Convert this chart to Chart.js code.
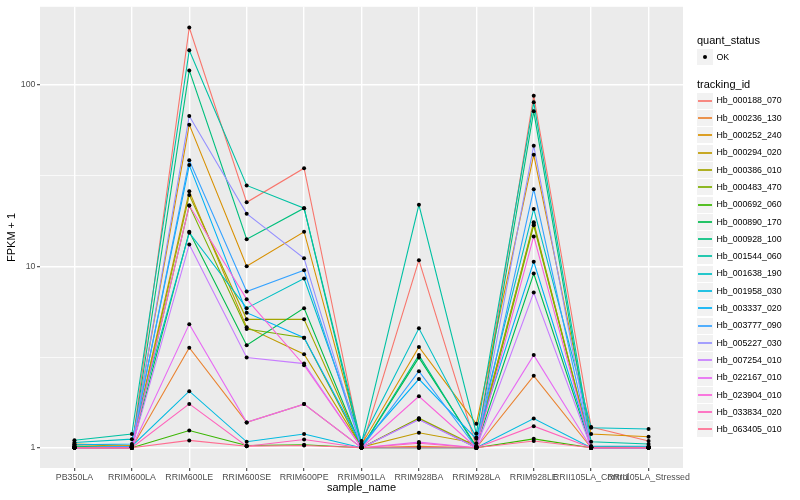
<!DOCTYPE html>
<html><head><meta charset="utf-8">
<script src="https://cdn.jsdelivr.net/npm/chart.js@4.4.1/dist/chart.umd.min.js"></script>
<style>
body{margin:0;background:#fff;font-family:"Liberation Sans",Arial,sans-serif;}
#wrap{position:relative;width:800px;height:500px;overflow:hidden;}
#c{position:absolute;left:0;top:0;}
.t{position:absolute;white-space:nowrap;color:#000;}
.key{position:absolute;background:#F2F2F2;}
</style></head><body>
<div id="wrap"><canvas id="c" width="800" height="500"></canvas><div id="legend"></div></div>
<script>
const categories = ["PB350LA","RRIM600LA","RRIM600LE","RRIM600SE","RRIM600PE","RRIM901LA","RRIM928BA","RRIM928LA","RRIM928LE","RRII105LA_Control","RRII105LA_Stressed"];
const trackingIds = ["Hb_000188_070","Hb_000236_130","Hb_000252_240","Hb_000294_020","Hb_000386_010","Hb_000483_470","Hb_000692_060","Hb_000890_170","Hb_000928_100","Hb_001544_060","Hb_001638_190","Hb_001958_030","Hb_003337_020","Hb_003777_090","Hb_005227_030","Hb_007254_010","Hb_022167_010","Hb_023904_010","Hb_033834_020","Hb_063405_010"];
const seriesColors = ["#F8766D","#EA8331","#D89000","#C09B00","#A3A500","#7CAE00","#39B600","#00BB4E","#00BF7D","#00C1A3","#00BFC4","#00BAE0","#00B0F6","#35A2FF","#9590FF","#C77CFF","#E76BF3","#FA62DB","#FF62BC","#FF6C91"];
const yTickValues = [1, 10, 100];
const yMinorValues = [3.1623, 31.623];

const hb000188_070 = [1.0, 1.0, 206.7, 22.5, 34.7, 1.0, 10.8, 1.02, 87.0, 1.30, 1.09];
const hb000236_130 = [1.0, 1.0, 3.56, 1.38, 1.74, 1.0, 1.02, 1.0, 2.49, 1.0, 1.0];
const hb000252_240 = [1.05, 1.03, 60.3, 10.0, 15.5, 1.04, 3.59, 1.355, 41.1, 1.19, 1.15];
const hb000294_020 = [1.04, 1.02, 25.9, 4.62, 3.28, 1.01, 1.21, 1.06, 17.1, 1.02, 1.01];
const hb000386_010 = [1.02, 1.0, 24.7, 5.10, 5.11, 1.0, 1.456, 1.02, 17.5, 1.0, 1.0];
const hb000483_470 = [1.0, 1.0, 21.6, 4.51, 4.04, 1.0, 1.45, 1.0, 16.8, 1.0, 1.0];
const hb000692_060 = [1.0, 1.0, 1.246, 1.03, 1.04, 1.0, 1.0, 1.0, 1.12, 1.0, 1.0];
const hb000890_170 = [1.0, 1.0, 15.5, 3.67, 5.88, 1.0, 3.14, 1.02, 9.12, 1.0, 1.0];
const hb000928_100 = [1.02, 1.0, 120.0, 14.1, 20.9, 1.0, 3.24, 1.0, 71.4, 1.0, 1.0];
const hb001544_060 = [1.10, 1.19, 155.0, 27.9, 20.9, 1.06, 21.8, 1.20, 80.0, 1.08, 1.05];
const hb001638_190 = [1.07, 1.116, 15.3, 5.88, 8.56, 1.09, 4.55, 1.14, 20.7, 1.29, 1.27];
const hb001958_030 = [1.0, 1.02, 2.05, 1.079, 1.19, 1.0, 1.0, 1.0, 1.45, 1.0, 1.0];
const hb003337_020 = [1.04, 1.05, 36.1, 5.55, 4.04, 1.04, 2.39, 1.12, 10.6, 1.02, 1.02];
const hb003777_090 = [1.0, 1.02, 38.4, 7.26, 9.51, 1.0, 2.64, 1.0, 26.6, 1.0, 1.0];
const hb005227_030 = [1.0, 1.0, 67.3, 19.5, 11.07, 1.0, 1.43, 1.0, 46.2, 1.0, 1.0];
const hb007254_010 = [1.0, 1.0, 13.2, 3.14, 2.91, 1.0, 1.43, 1.0, 7.17, 1.0, 1.0];
const hb022167_010 = [1.0, 1.0, 4.80, 1.38, 1.74, 1.0, 1.075, 1.0, 3.24, 1.0, 1.0];
const hb023904_010 = [1.0, 1.0, 21.6, 6.59, 2.85, 1.0, 1.92, 1.0, 14.6, 1.0, 1.0];
const hb033834_020 = [1.0, 1.0, 1.745, 1.02, 1.11, 1.0, 1.06, 1.0, 1.316, 1.0, 1.0];
const hb063405_010 = [1.0, 1.0, 1.098, 1.02, 1.03, 1.0, 1.0, 1.0, 1.09, 1.0, 1.0];

const seriesValues = [hb000188_070,hb000236_130,hb000252_240,hb000294_020,hb000386_010,hb000483_470,hb000692_060,hb000890_170,hb000928_100,hb001544_060,hb001638_190,hb001958_030,hb003337_020,hb003777_090,hb005227_030,hb007254_010,hb022167_010,hb023904_010,hb033834_020,hb063405_010];

const FONT = '"Liberation Sans", Arial, Helvetica, sans-serif';
Chart.defaults.font.family = FONT;

const bgPlugin = {
  id: 'panelBg',
  beforeDraw(chart) {
    const {ctx, chartArea: a} = chart;
    ctx.save();
    ctx.fillStyle = '#EBEBEB';
    ctx.fillRect(a.left, a.top, a.right - a.left, a.bottom - a.top);
    ctx.restore();
  }
};

const isMajor = v => yTickValues.includes(v);

const lineSets = seriesValues.map((vals, i) => ({
  label: trackingIds[i],
  data: vals.map((v, j) => ({x: j, y: v})),
  showLine: true,
  borderColor: seriesColors[i],
  backgroundColor: seriesColors[i],
  borderWidth: 1.1,
  pointRadius: 0,
  pointHoverRadius: 0,
  fill: false,
  tension: 0,
  order: 100 - i
}));
const pointSet = {
  label: 'OK',
  data: seriesValues.flatMap(vals => vals.map((v, j) => ({x: j, y: v}))),
  showLine: false,
  backgroundColor: '#000',
  borderColor: '#000',
  borderWidth: 0,
  pointRadius: 2,
  order: 0
};

new Chart(document.getElementById('c'), {
  type: 'scatter',
  data: { datasets: [...lineSets, pointSet] },
  plugins: [bgPlugin],
  options: {
    responsive: false,
    animation: false,
    devicePixelRatio: 1,
    layout: { padding: { left: 0, top: 5, right: 117, bottom: 0 } },
    plugins: { legend: { display: false }, tooltip: { enabled: false } },
    scales: {
      x: {
        type: 'linear',
        bounds: 'data',
        min: -0.6,
        max: categories.length - 1 + 0.6,
        afterBuildTicks: s => { s.ticks = categories.map((c, i) => ({value: i})); },
        afterFit: s => { s.height = 32; },
        ticks: {
          autoSkip: false, maxRotation: 0, minRotation: 0,
          callback: v => categories[v],
          font: { size: 8.8, family: FONT },
          color: '#4D4D4D',
          padding: 1
        },
        grid: { color: '#FFFFFF', lineWidth: 1.42, tickColor: '#333333', tickLength: 3, tickWidth: 1 },
        border: { display: false },
        title: { display: true, text: 'sample_name', color: '#000', font: { size: 11, family: FONT }, padding: { top: 0, bottom: 5 } }
      },
      y: {
        type: 'logarithmic',
        min: 0.7738,
        max: 268.9,
        afterBuildTicks: s => { s.ticks = [...yTickValues, ...yMinorValues].sort((a,b)=>a-b).map(v => ({value: v})); },
        afterFit: s => { s.width = 40; },
        ticks: {
          autoSkip: false,
          callback: v => isMajor(v) ? String(v) : '',
          font: { size: 8.8, family: FONT },
          color: '#4D4D4D',
          padding: 1.5
        },
        grid: {
          color: '#FFFFFF',
          lineWidth: c => (c.tick && isMajor(c.tick.value)) ? 1.42 : 0.71,
          tickColor: c => (c.tick && isMajor(c.tick.value)) ? '#333333' : 'rgba(0,0,0,0)',
          tickLength: 3,
          tickWidth: 1
        },
        border: { display: false },
        title: { display: true, text: 'FPKM + 1', color: '#000', font: { size: 11, family: FONT }, padding: { top: 5, bottom: 0 } }
      }
    }
  }
});

// Legend (HTML, real text)
const lg = document.getElementById('legend');
function addText(txt, left, cy, size) {
  const d = document.createElement('div');
  d.className = 't';
  d.textContent = txt;
  d.style.left = left + 'px';
  d.style.fontSize = size + 'px';
  d.style.lineHeight = Math.round(size * 1.2) + 'px';
  d.style.top = (cy - size * 0.6) + 'px';
  lg.appendChild(d);
}
function addKey(top) {
  const k = document.createElement('div');
  k.className = 'key';
  k.style.left = '697px'; k.style.top = top + 'px';
  k.style.width = '16px'; k.style.height = '16px';
  lg.appendChild(k);
  return k;
}
addText('quant_status', 697, 40.7, 11);
const okKey = addKey(49);
const dot = document.createElement('div');
dot.style.cssText = 'position:absolute;left:6px;top:6px;width:4px;height:4px;border-radius:2px;background:#000;';
okKey.appendChild(dot);
addText('OK', 716.5, 57.5, 8.8);
addText('tracking_id', 697, 84.3, 11);
trackingIds.forEach((id, i) => {
  const cy = 100.7 + 17.3 * i;
  const k = addKey(Math.round(cy - 8));
  const ln = document.createElement('div');
  ln.style.cssText = 'position:absolute;left:1px;width:14px;height:2px;top:7px;opacity:0.85;background:' + seriesColors[i] + ';';
  k.appendChild(ln);
  addText(id, 716.5, cy, 8.8);
});
</script>
</body></html>
